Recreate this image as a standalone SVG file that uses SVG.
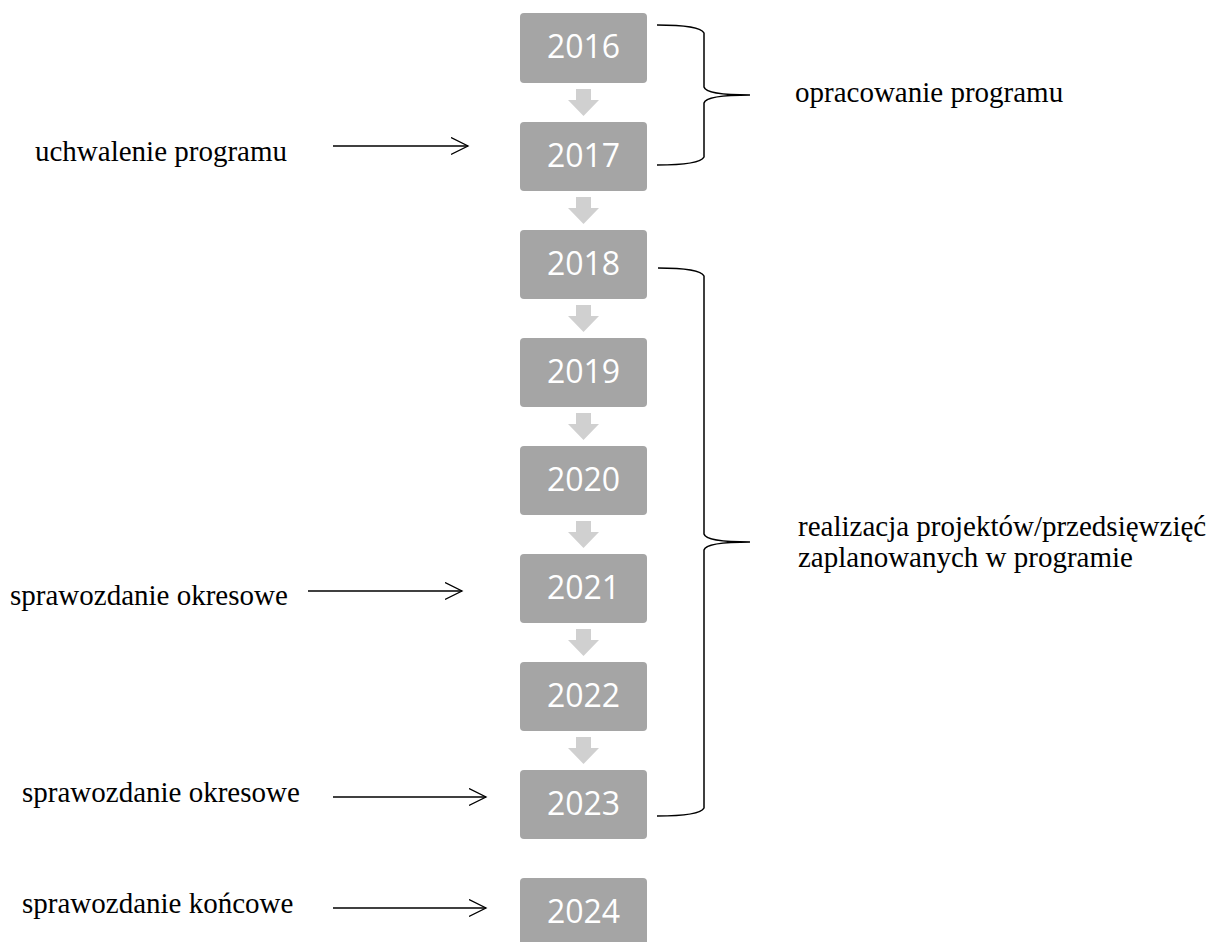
<svg xmlns="http://www.w3.org/2000/svg" width="1210" height="942" viewBox="0 0 1210 942">
<defs>
<style>
.box{fill:#A5A5A5}
.yr{font-family:"Open Sans","Noto Sans",sans-serif;font-size:32px;fill:#FFFFFF;text-anchor:middle}
.lbl{font-family:"Liberation Serif","Times New Roman",serif;font-size:29px;fill:#000000}
.flow{fill:#D0D0D0}
.ln{fill:none;stroke:#000000;stroke-width:1.3}
.br{fill:none;stroke:#000000;stroke-width:1.5}
</style>
<marker id="oa" markerWidth="20" markerHeight="20" refX="17" refY="9" orient="auto" markerUnits="userSpaceOnUse">
<polyline points="0,0.5 17,9 0,17.5" fill="none" stroke="#000" stroke-width="1.3"/>
</marker>
</defs>
<rect width="1210" height="942" fill="#FFFFFF"/>
<g id="n2016"><rect class="box" x="520" y="13" width="127" height="70" rx="4"/><text class="yr" x="583.5" y="58">2016</text></g>
<g id="n2017"><rect class="box" x="520" y="122" width="127" height="69" rx="4"/><text class="yr" x="583.5" y="167">2017</text></g>
<g id="n2018"><rect class="box" x="520" y="230" width="127" height="69" rx="4"/><text class="yr" x="583.5" y="275">2018</text></g>
<g id="n2019"><rect class="box" x="520" y="338" width="127" height="69" rx="4"/><text class="yr" x="583.5" y="383">2019</text></g>
<g id="n2020"><rect class="box" x="520" y="446" width="127" height="69" rx="4"/><text class="yr" x="583.5" y="491">2020</text></g>
<g id="n2021"><rect class="box" x="520" y="554" width="127" height="69" rx="4"/><text class="yr" x="583.5" y="599">2021</text></g>
<g id="n2022"><rect class="box" x="520" y="662" width="127" height="69" rx="4"/><text class="yr" x="583.5" y="707">2022</text></g>
<g id="n2023"><rect class="box" x="520" y="770" width="127" height="69" rx="4"/><text class="yr" x="583.5" y="815">2023</text></g>
<g id="n2024"><rect class="box" x="520" y="878" width="127" height="69" rx="4"/><text class="yr" x="583.5" y="923">2024</text></g>
<g id="connectors">
<polygon class="flow" points="576,89 591,89 591,100 599,100 583.5,116 568,100 576,100"/>
<polygon class="flow" points="576,197 591,197 591,208 599,208 583.5,224 568,208 576,208"/>
<polygon class="flow" points="576,305 591,305 591,316 599,316 583.5,332 568,316 576,316"/>
<polygon class="flow" points="576,413 591,413 591,424 599,424 583.5,440 568,424 576,424"/>
<polygon class="flow" points="576,521 591,521 591,532 599,532 583.5,548 568,532 576,532"/>
<polygon class="flow" points="576,629 591,629 591,640 599,640 583.5,656 568,640 576,640"/>
<polygon class="flow" points="576,737 591,737 591,748 599,748 583.5,764 568,748 576,748"/>
<line class="ln" x1="333" y1="146" x2="468" y2="146" marker-end="url(#oa)"/>
<line class="ln" x1="308" y1="591" x2="462" y2="591" marker-end="url(#oa)"/>
<line class="ln" x1="333" y1="797" x2="486" y2="797" marker-end="url(#oa)"/>
<line class="ln" x1="333" y1="908" x2="486" y2="908" marker-end="url(#oa)"/>
<path class="br" d="M657,25 Q700,25 704,33 L704,87 Q706,95 750,95 Q706,95 704,103 L704,157 Q700,165 657,165"/>
<path class="br" d="M658,268 Q700,268 704,276 L704,534 Q706,542 750,542 Q706,542 704,550 L704,808 Q700,816 657,816"/>
</g>
<text class="lbl" x="35" y="161">uchwalenie programu</text>
<text class="lbl" x="10" y="605">sprawozdanie okresowe</text>
<text class="lbl" x="22" y="802">sprawozdanie okresowe</text>
<text class="lbl" x="22" y="913">sprawozdanie końcowe</text>
<text class="lbl" x="795" y="102">opracowanie programu</text>
<text class="lbl" x="798" y="536">realizacja projektów/przedsięwzięć</text>
<text class="lbl" x="798" y="567">zaplanowanych w programie</text>
</svg>
